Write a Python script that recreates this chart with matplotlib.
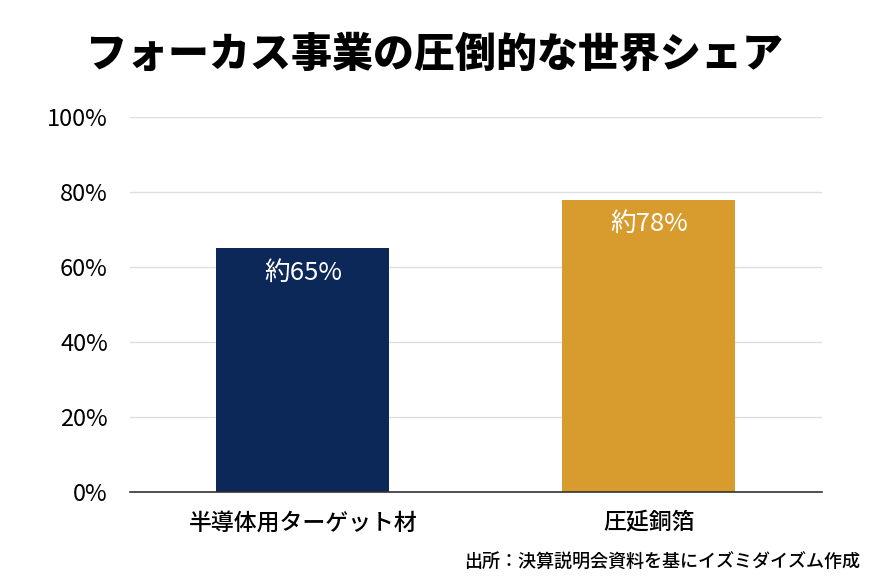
import matplotlib
matplotlib.use("Agg")
import matplotlib.pyplot as plt
from matplotlib.ticker import FuncFormatter

plt.rcParams['font.family'] = ['Noto Sans CJK JP', 'DejaVu Sans']

# data
categories = ['半導体用ターゲット材', '圧延銅箔']
shares = [65, 78]
labels = ['約65%', '約78%']
colors = ['#0b2858', '#d89b2e']
title = 'フォーカス事業の圧倒的な世界シェア'
source = '出所：決算説明会資料を基にイズミダイズム作成'

fig = plt.figure(figsize=(8.7, 5.83), dpi=100)
ax = fig.add_axes([0.1494, 0.1561, 0.7954, 0.6432])

x = range(len(categories))
bars = ax.bar(x, shares, width=0.5, color=colors, zorder=3)

for b, lab in zip(bars, labels):
    ax.annotate(lab, (b.get_x() + b.get_width() / 2, b.get_height()),
                xytext=(0, -17.5), textcoords='offset points',
                ha='center', va='center', color='white', fontsize=18.5)

ax.set_xlim(-0.5, 1.5)
ax.set_ylim(0, 100)
ax.set_yticks([0, 20, 40, 60, 80, 100])
ax.yaxis.set_major_formatter(FuncFormatter(lambda v, p: f'{int(v)}%'))
ax.set_xticks(list(x))
ax.set_xticklabels(categories, fontsize=16.5, fontweight='medium')
ax.tick_params(axis='y', length=0, pad=16, labelsize=17)
ax.tick_params(axis='x', length=0, pad=14)

ax.grid(axis='y', color='#dedede', linewidth=1, zorder=0)
for s in ['top', 'right', 'left']:
    ax.spines[s].set_visible(False)
ax.spines['bottom'].set_color('#333333')
ax.spines['bottom'].set_linewidth(1.2)
ax.spines['bottom'].set_zorder(4)

fig.text(0.5, 0.906, title, ha='center', va='center',
         fontsize=29.5, fontweight='black')
fig.text(0.989, 0.034, source, ha='right', va='center', fontsize=13,
         fontweight='medium')

fig.savefig('out.png', dpi=100, facecolor='white')
